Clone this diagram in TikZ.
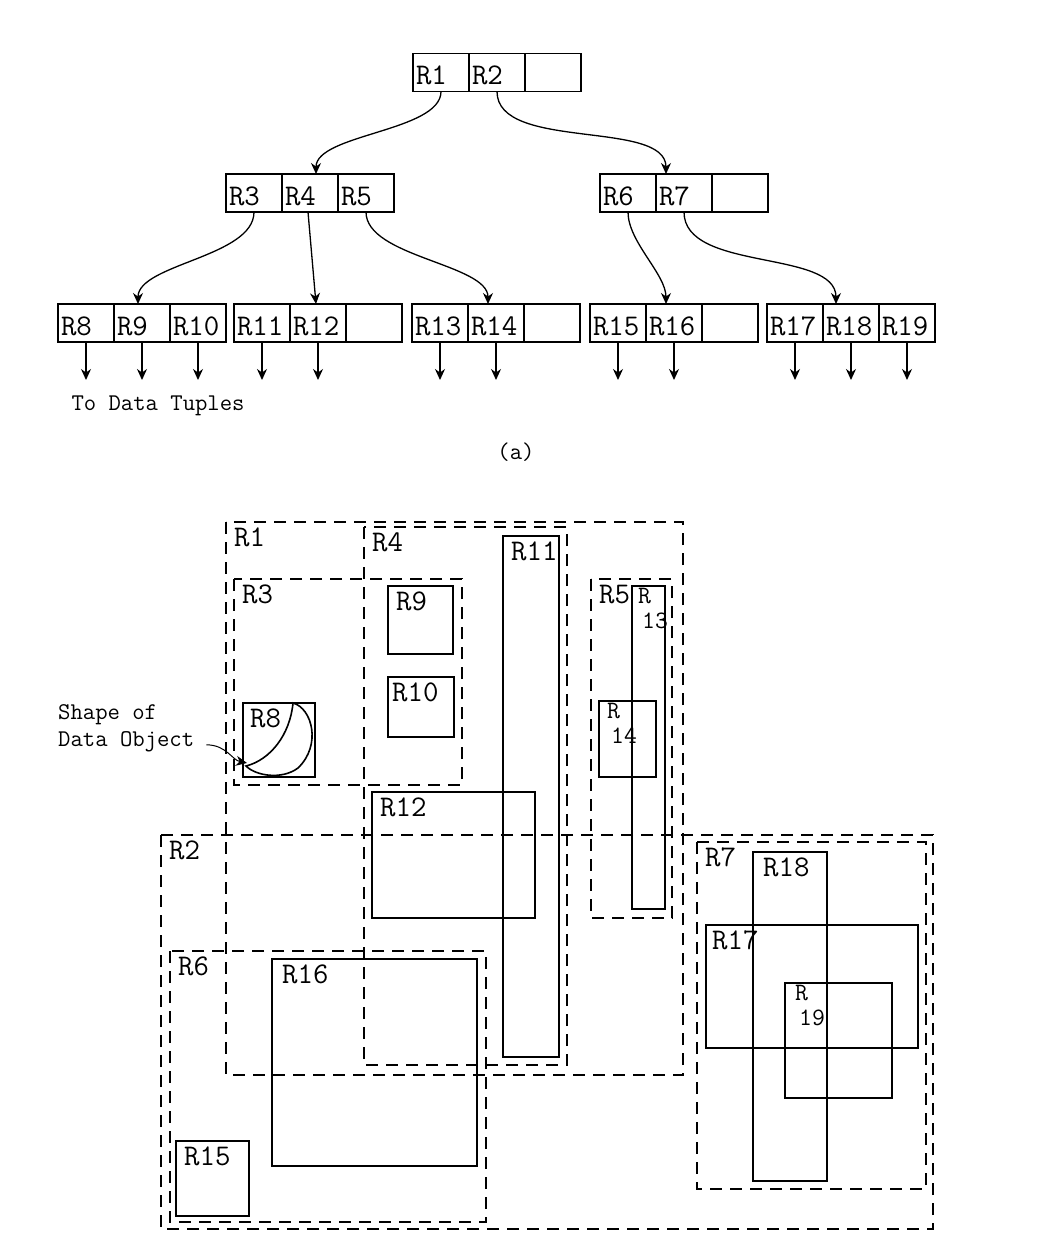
\documentclass[tikz,border=0pt]{standalone}
\usepackage{tikz}
\usetikzlibrary{arrows.meta,positioning}
\newcommand{\rfont}{\fontsize{30}{32}\selectfont\ttfamily}
\newcommand{\stackfont}{\fontsize{25}{25.5}\selectfont\ttfamily}
\newcommand{\tfont}{\fontsize{24}{27}\selectfont\ttfamily}

\begin{document}
\begin{tikzpicture}[x=1pt, y=-1pt, node distance=0pt, >={Stealth[length=11pt,width=10pt]},
  cell/.style={draw, line width=1.3pt, outer sep=0pt, inner sep=3pt, minimum height=38pt, text width=50pt, text height=25pt, text depth=0pt, align=left, font=\rfont},
  link/.style={->, line width=1.3pt},
  mbr/.style={draw, line width=1.6pt},
  dmbr/.style={draw, line width=1.6pt, dash pattern=on 12pt off 8pt},
  lbl/.style={anchor=north west, inner sep=0pt, xshift=8pt, yshift=-6pt, font=\rfont},
  stack/.style={lbl, align=left, font=\stackfont}]
\useasboundingbox (0,0) rectangle (1044,1246);
% (a) the tree
\node[cell] (r1) at (441,72.5) {R1};
\node[cell,right=of r1] (r2) {R2};
\node[cell,right=of r2] (e2) {};
\node[cell] (r3) at (254,193) {R3};
\node[cell,right=of r3] (r4) {R4};
\node[cell,right=of r4] (r5) {R5};
\node[cell] (r6) at (628,193) {R6};
\node[cell,right=of r6] (r7) {R7};
\node[cell,right=of r7] (e7) {};
\node[cell] (r8) at (86,323) {R8};
\node[cell,right=of r8] (r9) {R9};
\node[cell,right=of r9] (r10) {R10};
\node[cell] (r11) at (262,323) {R11};
\node[cell,right=of r11] (r12) {R12};
\node[cell,right=of r12] (e12) {};
\node[cell] (r13) at (440,323) {R13};
\node[cell,right=of r13] (r14) {R14};
\node[cell,right=of r14] (e14) {};
\node[cell] (r15) at (618,323) {R15};
\node[cell,right=of r15] (r16) {R16};
\node[cell,right=of r16] (e16) {};
\node[cell] (r17) at (795,323) {R17};
\node[cell,right=of r17] (r18) {R18};
\node[cell,right=of r18] (r19) {R19};
\draw[link] (r1.south) .. controls +(0,40) and +(0,-40) .. ([xshift=6pt]r4.north);
\draw[link] (r2.south) .. controls +(0,60) and +(0,-55) .. ([xshift=-18pt]r7.north);
\draw[link] (r3.south) .. controls +(0,45) and +(0,-40) .. ([xshift=-4pt]r9.north);
\draw[link] ([xshift=-2pt]r4.south) -- ([xshift=-2pt]r12.north);
\draw[link] (r5.south) .. controls +(0,45) and +(0,-40) .. ([xshift=-8pt]r14.north);
\draw[link] (r6.south) .. controls +(0,30) and +(0,-30) .. ([xshift=-8pt]r16.north);
\draw[link] (r7.south) .. controls +(0,60) and +(0,-55) .. ([xshift=-15pt]r18.north);
\foreach \c in {r8,r9,r10,r11,r12,r13,r14,r15,r16,r17,r18,r19}
  \draw[link] (\c.south) -- ([yshift=-38pt]\c.south);
\node[font=\tfont, anchor=base west] (tuples) at (68,410) {To Data Tuples};
\node[font=\tfont] (cap) at (516,452) {(a)};
% (b) the regions
\draw[dmbr] (226,522) rectangle (683,1075);
\node[lbl] (l1) at (226,522) {R1};
\draw[dmbr] (364,527) rectangle (567,1065);
\node[lbl] (l4) at (364,527) {R4};
\draw[dmbr] (234,579) rectangle (462,785);
\node[lbl] (l3) at (234,579) {R3};
\draw[dmbr] (591,579) rectangle (672,918);
\node[lbl] (l5) at (591,579) {R5};
\draw[dmbr] (161,835) rectangle (933,1229);
\node[lbl] (l2) at (161,835) {R2};
\draw[dmbr] (170,951) rectangle (486,1222);
\node[lbl] (l6) at (170,951) {R6};
\draw[dmbr] (697,842) rectangle (926,1189);
\node[lbl] (l7) at (697,842) {R7};
\draw[mbr] (503,536) rectangle (559,1057);
\node[lbl] (l11) at (503,536) {R11};
\draw[mbr] (388,586) rectangle (453,654);
\node[lbl] (l9) at (388,586) {R9};
\draw[mbr] (388,677) rectangle (454,737);
\node[lbl] (l10) at (384,677) {R10};
\draw[mbr] (243,703) rectangle (315,777);
\node[lbl] (l8) at (242,703) {R8};
\draw[mbr] (372,792) rectangle (535,918);
\node[lbl] (l12) at (372,792) {R12};
\draw[mbr] (632,586) rectangle (665,909);
\node[stack] (l13) at (630,582) {R\\\hspace*{4pt}13};
\draw[mbr] (599,701) rectangle (656,777);
\node[stack] (l14) at (599,697) {R\\\hspace*{4pt}14};
\draw[mbr] (272,959) rectangle (477,1166);
\node[lbl] (l16) at (274,959) {R16};
\draw[mbr] (176,1141) rectangle (249,1216);
\node[lbl] (l15) at (176,1141) {R15};
\draw[mbr] (753,852) rectangle (827,1181);
\node[lbl] (l18) at (755,852) {R18};
\draw[mbr] (706,925) rectangle (918,1048);
\node[lbl] (l17) at (704,925) {R17};
\draw[mbr] (785,983) rectangle (892,1098);
\node[stack] (l19) at (787,979) {R\\\hspace*{4pt}19};
% data object in R8
\draw[line width=1.6pt] (293,703) .. controls (312,708) and (322,745) .. (298,768) .. controls (282,780) and (256,776) .. (246,766) .. controls (270,760) and (290,735) .. cycle;
\node[font=\tfont, align=left, anchor=north west, inner sep=0pt] (obj) at (58,704) {Shape of\\Data Object};
\coordinate (tip) at (247,763);
\draw[link, line width=1pt] ([xshift=12pt,yshift=7pt]obj.south east) .. controls +(20,0) and +(-15,-3) .. (tip);
\end{tikzpicture}
\end{document}
